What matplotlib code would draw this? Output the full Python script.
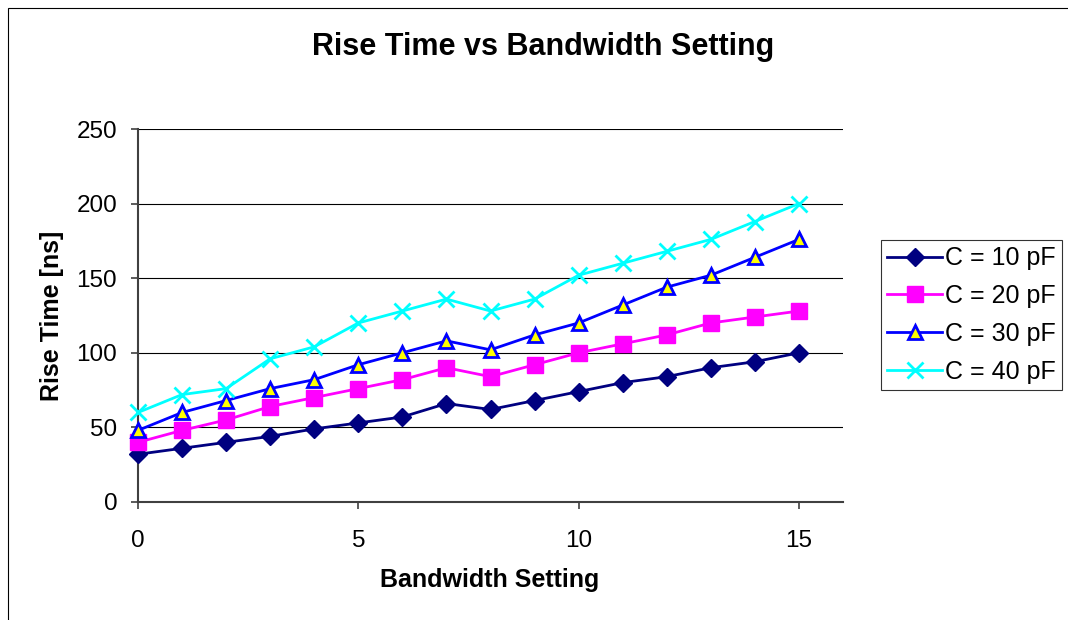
import matplotlib.pyplot as plt
from matplotlib.patches import Rectangle

plt.rcParams['font.family'] = ['Liberation Sans', 'DejaVu Sans']

# data
bandwidth = list(range(16))
c10 = [32, 36, 40, 44, 49, 53, 57, 66, 62, 68, 74, 80, 84, 90, 94, 100]
c20 = [40, 48, 55, 64, 70, 76, 82, 90, 84, 92, 100, 106, 112, 120, 124, 128]
c30 = [48, 60, 68, 76, 82, 92, 100, 108, 102, 112, 120, 132, 144, 152, 164, 176]
c40 = [60, 72, 76, 96, 104, 120, 128, 136, 128, 136, 152, 160, 168, 176, 188, 200]
labels = ['C = 10 pF', 'C = 20 pF', 'C = 30 pF', 'C = 40 pF']

fig = plt.figure(figsize=(10.68, 6.2), dpi=100)
ax = fig.add_axes([138 / 1068, 1 - 502 / 620, 705 / 1068, 373 / 620])

# outer chart border
fig.patches.append(Rectangle((8 / 1068, -0.1), 1.2, 1 - 8 / 620 + 0.1,
                             transform=fig.transFigure, fill=False,
                             edgecolor='black', linewidth=0.8))

ax.plot(bandwidth, c10, color='#000080', lw=2.0, marker='D', ms=9.5,
        mfc='#000080', mec='#000080', label=labels[0], clip_on=False, zorder=3)
ax.plot(bandwidth, c20, color='#FF00FF', lw=2.0, marker='s', ms=11.5,
        mfc='#FF00FF', mec='#FF00FF', label=labels[1], clip_on=False, zorder=3)
ax.plot(bandwidth, c30, color='#0000FF', lw=2.0, marker='^', ms=10.5,
        mfc='#FFFF00', mec='#0000FF', mew=2.0, label=labels[2], clip_on=False, zorder=3)
ax.plot(bandwidth, c40, color='#00FFFF', lw=2.0, marker='x', ms=11.5, mew=2.0,
        mec='#00FFFF', label=labels[3], clip_on=False, zorder=3)

ax.set_xlim(0, 16)
ax.set_ylim(0, 250)
ax.set_xticks([0, 5, 10, 15])
ax.set_yticks(range(0, 251, 50))
ax.tick_params(axis='both', labelsize=17.5, direction='out', length=5, width=1.2, color='#404040')
ax.tick_params(axis='x', pad=15)
ax.tick_params(axis='y', pad=10)
ax.grid(axis='y', color='black', linewidth=0.8)
ax.set_axisbelow(True)
for s in ['top', 'right']:
    ax.spines[s].set_visible(False)
for s in ['left', 'bottom']:
    ax.spines[s].set_color('#404040')
    ax.spines[s].set_linewidth(1.5)

ax.set_xlabel('Bandwidth Setting', fontsize=18, fontweight='bold')
ax.set_ylabel('Rise Time [ns]', fontsize=18, fontweight='bold')
ax.xaxis.set_label_coords((490 - 138) / 705, -(568 - 502) / 373)
ax.yaxis.set_label_coords(-(138 - 64) / 705, (502 - 316) / 373)
fig.text(543 / 1068, 1 - 47 / 620, 'Rise Time vs Bandwidth Setting',
         fontsize=22, fontweight='bold', ha='center', va='center')

leg = fig.legend(loc='upper left', bbox_to_anchor=(881 / 1068, 1 - 240 / 620),
                 fontsize=18, frameon=True, fancybox=False, edgecolor='black',
                 borderpad=0.25, labelspacing=0.55, handlelength=2.2,
                 handletextpad=0.1, borderaxespad=0)
leg.get_frame().set_linewidth(0.8)

fig.savefig('out.png', dpi=100)
